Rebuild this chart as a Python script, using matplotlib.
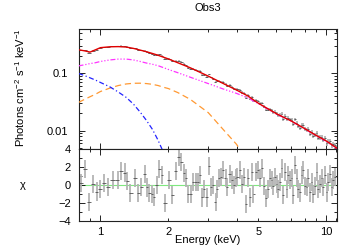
import numpy as np
import matplotlib
matplotlib.use("Agg")
import matplotlib.pyplot as plt
from matplotlib.ticker import FixedLocator, FuncFormatter, NullFormatter, LogLocator

plt.rcParams['font.family'] = ['Liberation Sans', 'DejaVu Sans']
plt.rcParams['mathtext.fontset'] = 'custom'
plt.rcParams['mathtext.rm'] = 'Liberation Sans'
plt.rcParams['mathtext.it'] = 'Liberation Sans:italic'
plt.rcParams['font.size'] = 8

# ---------------- model curves (energy grid, keV) ----------------
model_E = [0.8, 0.85, 0.9, 0.95, 1.0, 1.1, 1.2, 1.3, 1.4, 1.5, 1.6, 1.7, 1.8, 1.9,
           2.0, 2.2, 2.5, 3.0, 3.5, 4.0, 4.5, 5.0, 6.0, 7.0, 8.0, 9.0, 10.0, 11.1]
total_model = [0.256, 0.245, 0.233, 0.255, 0.278, 0.288, 0.290, 0.285, 0.270, 0.252,
               0.236, 0.220, 0.205, 0.190, 0.177, 0.152, 0.124, 0.089, 0.066, 0.051,
               0.040, 0.030, 0.0198, 0.0147, 0.0109, 0.0083, 0.0066, 0.0050]
powerlaw_comp = [0.134, 0.140, 0.147, 0.152, 0.160, 0.170, 0.176, 0.176, 0.170, 0.160,
                 0.150, 0.143, 0.135, 0.125, 0.116, 0.102, 0.085, 0.066, 0.053, 0.0446,
                 0.037, 0.0295, 0.0195, 0.0146, 0.0108, 0.0082, 0.0065, 0.0049]
orange_E = [0.8, 0.85, 0.9, 0.95, 1.0, 1.1, 1.2, 1.3, 1.4, 1.5, 1.6, 1.7, 1.8, 1.9,
            2.0, 2.2, 2.5, 3.0, 3.5, 4.0, 4.5]
orange_comp = [0.031, 0.035, 0.039, 0.043, 0.048, 0.055, 0.061, 0.065, 0.0668, 0.0670,
               0.066, 0.064, 0.061, 0.057, 0.054, 0.046, 0.035, 0.0206, 0.0104, 0.0058,
               0.0029]
blue_E = [0.8, 0.85, 0.9, 0.95, 1.0, 1.1, 1.2, 1.3, 1.4, 1.5, 1.6, 1.7, 1.8, 1.9, 2.0]
blue_comp = [0.099, 0.091, 0.083, 0.076, 0.069, 0.058, 0.047, 0.038, 0.029, 0.021,
             0.015, 0.0105, 0.0068, 0.0042, 0.0025]

# ---------------- residuals (chi) per bin ----------------
data_E = [0.820, 0.854, 0.892, 0.924, 0.962, 0.995, 1.039, 1.083, 1.132, 1.191,
          1.232, 1.284, 1.310, 1.355, 1.421, 1.470, 1.511, 1.578, 1.601, 1.644,
          1.690, 1.730, 1.773, 1.820, 1.871, 1.930,
          2.010, 2.079, 2.151, 2.225, 2.278, 2.342, 2.389, 2.446, 2.507, 2.567,
          2.638, 2.701, 2.756, 2.821, 2.871, 2.951, 3.021, 3.074, 3.156, 3.234,
          3.287, 3.345, 3.424, 3.495, 3.581, 3.640, 3.730, 3.806, 3.896, 3.964,
          4.029, 4.143, 4.216, 4.315, 4.417, 4.495, 4.587, 4.696, 4.744,
          4.877, 4.961, 5.080, 5.169, 5.291, 5.400, 5.528, 5.623, 5.721, 5.816,
          5.917, 6.020, 6.120, 6.226, 6.336, 6.440, 6.553, 6.667, 6.776, 6.894,
          7.015, 7.130, 7.255, 7.382, 7.504, 7.634, 7.768, 7.895, 8.034, 8.174,
          8.309, 8.454, 8.602, 8.744, 8.897, 9.052, 9.199, 9.359, 9.524, 9.679,
          9.849, 10.02, 10.19, 10.36, 10.54, 10.72, 10.90]
chi = [0.2, 1.7, -1.9, 0.1, -0.75, -0.45, 0.2, -0.2, 0.55, 0.55,
       1.5, 1.35, 0.4, -0.9, 0.7, -0.9, -0.25, 1.2, -0.3, -0.9,
       -1.0, -1.35, 0.0, 1.7, 1.1, -2.0,
       0.5, -1.1, 1.5, 3.1, 2.5, 1.25, 0.7, -1.0, -1.0, 0.3,
       0.3, 0.3, 1.05, -1.4, -0.45, -1.4, 2.1, -0.2, 0.0, -1.95,
       -0.45, 0.7, 0.85, 1.6, 0.7, -0.2, 1.2, 0.5, 0.0, 0.7,
       0.85, 1.6, 0.1, 0.85, -2.1, 0.7, -1.4, 1.4, -1.0,
       1.4, 1.6, 0.7, 1.8, -0.1, -1.5, -0.45, 0.7, 0.5, -0.1,
       0.85, 0.1, -0.45, 0.3, 1.8, -1.1, 1.4, -0.45, 1.05, 0.5,
       0.7, -1.1, 2.2, 0.7, -0.45, -0.85, 1.05, 1.6, -0.1, -0.2,
       0.7, -0.85, 0.3, -1.0, -0.1, 1.4, -0.45, 0.1, 0.7, -0.2,
       1.05, -0.85, 0.3, 1.2, -0.2, 0.5, 0.85]
# fractional 1-sigma error of the spectrum, read at a few energies
err_E = [0.8, 1.0, 2.0, 5.0, 11.0]
err_frac = [0.02, 0.02, 0.03, 0.05, 0.10]

# ---------------- derived quantities ----------------
dE = np.array(data_E)
logE = np.log10(dE)
mids = 10 ** ((logE[1:] + logE[:-1]) / 2)
lo_edge = np.concatenate([[10 ** (logE[0] - (logE[1] - logE[0]) / 2)], mids])
hi_edge = np.concatenate([mids, [10 ** (logE[-1] + (logE[-1] - logE[-2]) / 2)]])
xerr = np.vstack([dE - lo_edge, hi_edge - dE])
mod_at = 10 ** np.interp(logE, np.log10(model_E), np.log10(total_model))
frac = np.interp(logE, np.log10(err_E), err_frac)
flux = mod_at * (1 + np.array(chi) * frac)
flux_err = mod_at * frac

# ---------------- figure ----------------
fig = plt.figure(figsize=(3.39, 2.49), dpi=100)
ax1 = fig.add_axes([0.2316, 0.4036, 0.7616, 0.4787])
ax2 = fig.add_axes([0.2316, 0.1124, 0.7616, 0.2912], sharex=ax1)

vcol = '#b4b4b4'
hcol = '#505050'
ax1.errorbar(dE, flux, yerr=flux_err, fmt='none', ecolor=vcol, elinewidth=1.3, capsize=0, zorder=2)
ax1.errorbar(dE, flux, xerr=xerr, fmt='none', ecolor=hcol, elinewidth=0.6, capsize=0, zorder=2)
ax1.plot(model_E, powerlaw_comp, color='#ff33ff', lw=0.9,
         ls=(0, (4, 1.5, 1, 1.5, 1, 1.5, 1, 1.5)), zorder=3)
ax1.plot(orange_E, orange_comp, color='#ff9933', lw=0.9, ls=(0, (5, 3)), zorder=3)
ax1.plot(blue_E, blue_comp, color='#2222ff', lw=0.9, ls=(0, (4, 2, 1, 2)), zorder=3)
ax1.plot(model_E, total_model, color='#e00000', lw=1.0, zorder=4)

ax2.axhline(0, color='#7fe87f', lw=0.8, zorder=1)
ax2.errorbar(dE, chi, yerr=1.0, fmt='none', ecolor=vcol, elinewidth=1.3, capsize=0, zorder=2)
ax2.errorbar(dE, chi, xerr=xerr, fmt='none', ecolor=hcol, elinewidth=0.6, capsize=0, zorder=2)

ax1.set_xscale('log')
ax1.set_yscale('log')
ax1.set_xlim(0.8, 11.1)
ax1.set_ylim(0.0049, 0.58)
ax2.set_ylim(-4, 4)

for ax in (ax1, ax2):
    ax.xaxis.set_major_locator(FixedLocator([1, 10]))
    ax.xaxis.set_minor_locator(FixedLocator([0.8, 0.9, 2, 3, 4, 5, 6, 7, 8, 9, 11]))
    ax.tick_params(which='both', direction='in', top=True, right=True, width=0.6,
                   colors='black', labelsize=8)
    ax.tick_params(which='major', length=4.5)
    ax.tick_params(which='minor', length=2.2)
    for s in ax.spines.values():
        s.set_linewidth(0.8)
        s.set_color('#222222')

ax1.yaxis.set_major_locator(FixedLocator([0.01, 0.1]))
ax1.yaxis.set_minor_locator(LogLocator(base=10, subs=np.arange(2, 10)))
ax1.yaxis.set_major_formatter(FuncFormatter(lambda v, p: f'{v:g}'))
ax1.yaxis.set_minor_formatter(NullFormatter())
ax1.tick_params(axis='x', which='both', labelbottom=False)
ax1.tick_params(axis='y', which='major', pad=7.5)

ax2.yaxis.set_major_locator(FixedLocator([-4, -2, 0, 2, 4]))
ax2.yaxis.set_minor_locator(FixedLocator([-3, -1, 1, 3]))
ax2.yaxis.set_major_formatter(FuncFormatter(lambda v, p: f'{v:g}'.replace('-', '\u2212')))
ax2.xaxis.set_major_formatter(FuncFormatter(lambda v, p: f'{v:g}'))
ax2.xaxis.set_minor_formatter(FuncFormatter(lambda v, p: f'{v:g}' if round(v, 3) in (2.0, 5.0) else ''))
ax2.tick_params(axis='x', which='both', pad=4)
ax2.tick_params(axis='y', which='major', pad=5.5)

fig.text(208 / 339, 1 - 8 / 249, 'Obs3', ha='center', va='center', fontsize=8)
fig.text(20 / 339, 1 - 88 / 249, 'Photons cm$^{-2}$ s$^{-1}$ keV$^{-1}$', rotation=90,
         ha='center', va='center', fontsize=8)
fig.text(23 / 339, 1 - 185 / 249, 'χ', ha='center', va='center', fontsize=8)
fig.text(208 / 339, 1 - 240 / 249, 'Energy (keV)', ha='center', va='center', fontsize=8)

fig.savefig('out.png', dpi=100)
